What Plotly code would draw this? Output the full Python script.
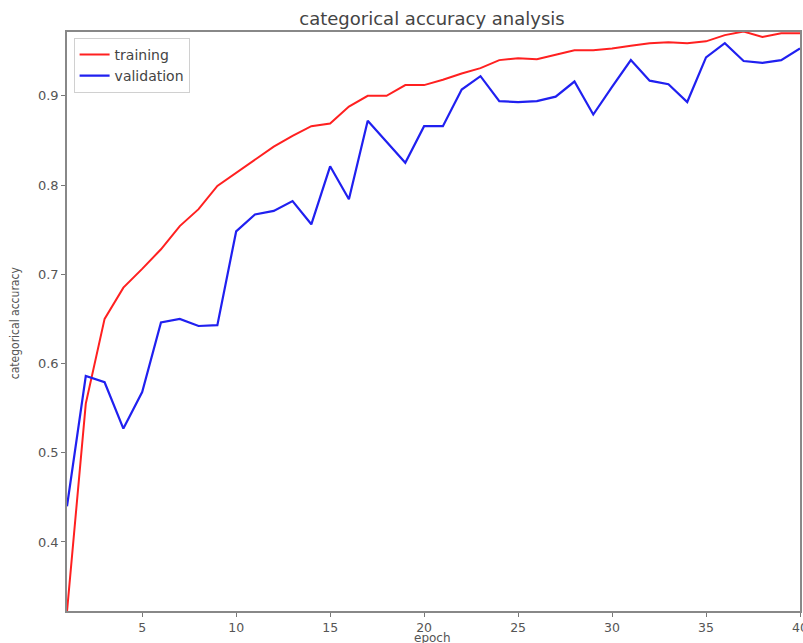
import plotly.graph_objects as go

epochs = list(range(1, 41))
training = [0.322, 0.555, 0.650, 0.685, 0.706, 0.728, 0.754, 0.773, 0.799, 0.814,
            0.828, 0.843, 0.855, 0.866, 0.869, 0.888, 0.900, 0.900, 0.912, 0.912,
            0.918, 0.925, 0.931, 0.940, 0.942, 0.941, 0.946, 0.951, 0.951, 0.953,
            0.956, 0.959, 0.960, 0.959, 0.961, 0.968, 0.972, 0.966, 0.970, 0.970]
validation = [0.440, 0.586, 0.579, 0.527, 0.568, 0.646, 0.650, 0.642, 0.643, 0.748,
              0.767, 0.771, 0.782, 0.756, 0.821, 0.784, 0.872, 0.849, 0.825, 0.866,
              0.866, 0.907, 0.922, 0.894, 0.893, 0.894, 0.899, 0.916, 0.879, 0.910,
              0.940, 0.917, 0.913, 0.893, 0.943, 0.959, 0.939, 0.937, 0.940, 0.953]
x_ticks = [5, 10, 15, 20, 25, 30, 35, 40]
y_ticks = [0.4, 0.5, 0.6, 0.7, 0.8, 0.9]

W, H = 803, 643

fig = go.Figure()
fig.add_trace(go.Scatter(x=epochs, y=training, mode="lines", name="training",
                         line=dict(color="#ff2020", width=2)))
fig.add_trace(go.Scatter(x=epochs, y=validation, mode="lines", name="validation",
                         line=dict(color="#2020f0", width=2.2)))

fig.update_layout(
    width=W, height=H,
    margin=dict(l=67, r=3, t=32, b=32),
    paper_bgcolor="white", plot_bgcolor="white",
    font=dict(family="DejaVu Sans", color="#555555"),
    title=dict(text="categorical accuracy analysis", x=432 / W, xanchor="center",
               y=1 - 19 / H, yanchor="middle", yref="container",
               font=dict(size=18, color="#444444")),
    legend=dict(x=0.009, y=0.99, xanchor="left", yanchor="top",
                bgcolor="white", bordercolor="#d0d0d0", borderwidth=1,
                font=dict(size=14, color="#444444"), tracegroupgap=0,
                itemwidth=30),
    showlegend=True,
    annotations=[
        dict(text="epoch", xref="paper", yref="paper", x=0.498, y=0,
             yshift=-27, xanchor="center", yanchor="middle", showarrow=False,
             font=dict(size=12, color="#555555")),
        dict(text="categorical accuracy", xref="paper", yref="paper", x=0, y=0.497,
             xshift=-52, textangle=-90, xanchor="center", yanchor="middle",
             showarrow=False,
             font=dict(size=12, color="#555555",
                       family="Liberation Sans Narrow, DejaVu Sans Condensed, DejaVu Sans")),
    ],
)
fig.update_xaxes(range=[1, 40], tickvals=x_ticks, ticks="outside", ticklen=4,
                 tickcolor="#777777", showgrid=False, zeroline=False,
                 showline=True, linecolor="#888888", linewidth=1.5, mirror=True,
                 tickfont=dict(size=12.5, color="#555555"), automargin=False,
                 ticklabeloverflow="allow")
fig.update_yaxes(range=[0.3226, 0.9715], tickvals=y_ticks, ticks="outside", ticklen=4,
                 tickcolor="#777777", showgrid=False, zeroline=False,
                 showline=True, linecolor="#888888", linewidth=1.5, mirror=True,
                 tickfont=dict(size=13, color="#555555"), automargin=False)

fig.write_html(
    "out.html",
    config={"displayModeBar": False},
    post_script="document.body.style.margin='0';document.body.style.overflow='hidden';",
)
